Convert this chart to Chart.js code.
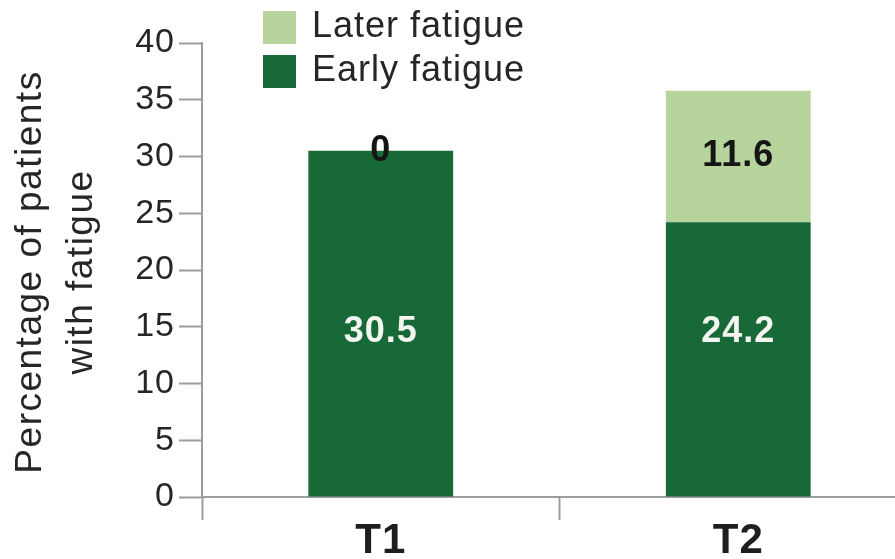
<!DOCTYPE html>
<html lang="en">
<head>
<meta charset="UTF-8">
<title>Fatigue at T1 and T2</title>
<script src="https://cdn.jsdelivr.net/npm/chart.js"></script>
<style>
  html, body { margin: 0; padding: 0; background: #fff; overflow: hidden; }
  #wrap { width: 917px; height: 559px; }
</style>
</head>
<body>
<div id="wrap"><canvas id="fatigueChart" width="917" height="559"></canvas></div>
<script>
// data
const categories = ['T1', 'T2'];
const earlyFatigue = [30.5, 24.2];
const laterFatigue = [0, 11.6];
const seriesNames = ['Early fatigue', 'Later fatigue'];
const yMin = 0, yMax = 40, yStep = 5;
const yTitle = ['Percentage of patients', 'with fatigue'];

const FONT = '"Liberation Sans", Arial, sans-serif';
const DARK_GREEN = '#176a37';
const LIGHT_GREEN = '#b6d49b';
const AXIS_GREY = '#9d9d9d';
const TEXT = '#262626';

// the source font is set a little wide, so add some tracking to canvas text
const spacing = {
    id: 'spacing',
    beforeLayout(chart) { chart.ctx.letterSpacing = '1px'; },
    beforeDraw(chart) { chart.ctx.letterSpacing = '1px'; }
};

// value labels, y title and legend
const extras = {
    id: 'extras',
    afterDatasetsDraw(chart) {
        const ctx = chart.ctx;
        const y = chart.scales.y;
        ctx.save();
        ctx.textAlign = 'center';
        ctx.textBaseline = 'middle';
        ctx.font = 'bold 36px ' + FONT;
        chart.data.datasets.forEach((ds, i) => {
            chart.getDatasetMeta(i).data.forEach((bar, j) => {
                // early-fatigue labels sit at the same height in both bars
                const py = i === 0 ? y.getPixelForValue(14.5) : (bar.y + bar.base) / 2;
                ctx.fillStyle = i === 0 ? '#f4f4f0' : '#151515';
                ctx.fillText(String(ds.data[j]), bar.x, py);
            });
        });
        ctx.restore();
    },
    afterDraw(chart) {
        const ctx = chart.ctx;
        const area = chart.chartArea;
        const midY = (area.top + area.bottom) / 2 + 2;

        // rotated y-axis title, two lines
        ctx.save();
        ctx.letterSpacing = '1.5px';
        ctx.font = '37px ' + FONT;
        ctx.fillStyle = TEXT;
        ctx.textAlign = 'center';
        ctx.textBaseline = 'alphabetic';
        [41, 92].forEach((bx, k) => {
            ctx.save();
            ctx.translate(bx, midY);
            ctx.rotate(-Math.PI / 2);
            ctx.fillText(yTitle[k], 0, 0);
            ctx.restore();
        });
        ctx.restore();

        // legend, later fatigue on top
        ctx.save();
        ctx.letterSpacing = '1px';
        ctx.font = '36px ' + FONT;
        ctx.textBaseline = 'middle';
        ctx.textAlign = 'left';
        const items = chart.data.datasets.slice().reverse();
        items.forEach((ds, k) => {
            const top = 11 + k * 44;
            ctx.fillStyle = ds.backgroundColor;
            ctx.fillRect(263, top, 33, 33);
            ctx.fillStyle = TEXT;
            ctx.fillText(ds.label, 312, top + 16);
        });
        ctx.restore();
    }
};

new Chart(document.getElementById('fatigueChart'), {
    type: 'bar',
    data: {
        labels: categories,
        datasets: [
            {
                label: seriesNames[0],
                data: earlyFatigue,
                backgroundColor: DARK_GREEN,
                borderWidth: 0,
                barPercentage: 0.405,
                categoryPercentage: 1
            },
            {
                label: seriesNames[1],
                data: laterFatigue,
                backgroundColor: LIGHT_GREEN,
                borderWidth: 0,
                barPercentage: 0.405,
                categoryPercentage: 1
            }
        ]
    },
    options: {
        responsive: false,
        animation: false,
        devicePixelRatio: 1,
        layout: { padding: { top: 43, left: 0, right: 0, bottom: 0 } },
        plugins: {
            legend: { display: false },
            tooltip: { enabled: false }
        },
        scales: {
            x: {
                stacked: true,
                afterFit(scale) { scale.height = 62; },
                grid: {
                    offset: true,
                    drawOnChartArea: false,
                    drawTicks: true,
                    tickLength: 23,
                    tickWidth: 2,
                    color: AXIS_GREY
                },
                border: { display: true, color: AXIS_GREY, width: 2 },
                ticks: {
                    padding: 0,
                    color: '#1e1e1e',
                    font: { family: FONT, size: 42, weight: 'bold', lineHeight: 1 }
                }
            },
            y: {
                stacked: true,
                min: yMin,
                max: yMax,
                afterFit(scale) { scale.width = 202; },
                grid: {
                    drawOnChartArea: false,
                    drawTicks: true,
                    tickLength: 23,
                    tickWidth: 2,
                    color: AXIS_GREY
                },
                border: { display: true, color: AXIS_GREY, width: 2 },
                ticks: {
                    stepSize: yStep,
                    padding: 4,
                    color: TEXT,
                    font: { family: FONT, size: 34 }
                }
            }
        }
    },
    plugins: [spacing, extras]
});
</script>
</body>
</html>
